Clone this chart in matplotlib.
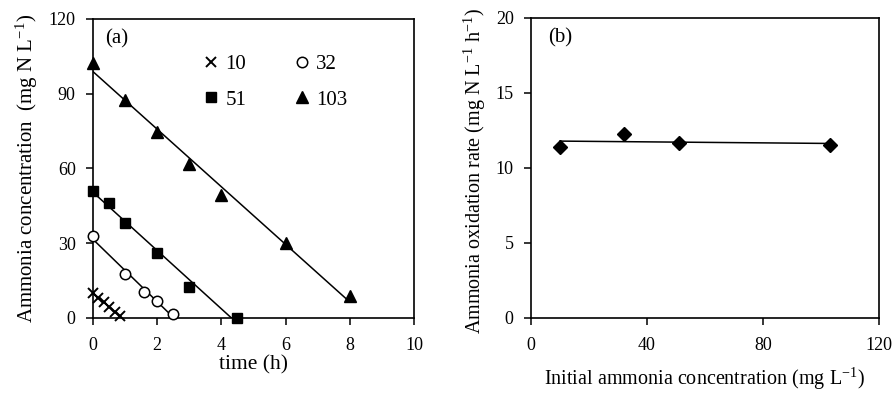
import numpy as np
import matplotlib
matplotlib.use("Agg")
import matplotlib.pyplot as plt

plt.rcParams['font.family'] = ['Liberation Serif', 'DejaVu Serif']
plt.rcParams['mathtext.fontset'] = 'stix'

# (a) ammonia concentration over time, by initial concentration
t_10 = [0, 0.17, 0.33, 0.5, 0.67, 0.83]
c_10 = [10, 8.2, 6.3, 4.5, 2.6, 0.9]
t_32 = [0, 1, 1.6, 2, 2.5]
c_32 = [32.9, 17.5, 10.3, 6.8, 1.5]
t_51 = [0, 0.5, 1, 2, 3, 4.5]
c_51 = [51, 46.1, 38.3, 26.1, 12.5, 0.1]
t_103 = [0, 1, 2, 3, 4, 6, 8]
c_103 = [102.5, 87.5, 74.6, 62.0, 49.4, 30.0, 8.8]

# (b) oxidation rate vs initial concentration
init_conc = [10, 32, 51, 103]
ox_rate = [11.42, 12.27, 11.69, 11.53]

fig = plt.figure(figsize=(8.96, 3.95), dpi=100)
ax1 = fig.add_axes([93 / 896, 1 - 318 / 395, 321 / 896, 299 / 395])
ax2 = fig.add_axes([531 / 896, 1 - 318 / 395, 348 / 896, 300 / 395])

TICK_FS = 13
LAB_FS = 15


def fit_line(ax, t, c):
    k, b = np.polyfit(t, c, 1)
    t_end = min(max(t), -b / k)
    xs = np.array([0, t_end])
    ax.plot(xs, k * xs + b, color='black', lw=1.1, zorder=2)


series = [
    (t_10, c_10, dict(marker='x', ms=7.5, mew=1.4, mfc='none'), '10'),
    (t_51, c_51, dict(marker='s', ms=7.5), '51'),
    (t_32, c_32, dict(marker='o', ms=7.5, mfc='white', mew=1.1), '32'),
    (t_103, c_103, dict(marker='^', ms=8.5), '103'),
]
for t, c, style, lab in series:
    fit_line(ax1, t, c)
    ax1.plot(t, c, ls='none', color='black', label=lab, clip_on=False, zorder=3, **style)

ax1.set_xlim(0, 10)
ax1.set_ylim(0, 120)
ax1.set_xticks([0, 2, 4, 6, 8, 10])
ax1.set_yticks([0, 30, 60, 90, 120])
ax1.set_xlabel('time (h)', fontsize=15.5)
ax1.set_ylabel('Ammonia concentration  (mg N L$^{\\mathregular{-1}}$)', fontsize=LAB_FS)
ax1.xaxis.set_label_coords(0.5, -0.123)
ax1.yaxis.set_label_coords(-0.165, 0.5)
ax1.text(0.037, 0.935, '(a)', transform=ax1.transAxes, fontsize=LAB_FS, va='center')
ax1.legend(ncol=2, frameon=False, fontsize=LAB_FS, loc='upper left',
           bbox_to_anchor=(0.312, 0.915), handlelength=0.7, handletextpad=0.35,
           columnspacing=2.3, labelspacing=0.75, borderpad=0)

ax2.plot(init_conc, ox_rate, ls='none', marker='D', ms=7, color='black', zorder=3)
k, b = np.polyfit(init_conc, ox_rate, 1)
xs = np.array([min(init_conc), max(init_conc)])
ax2.plot(xs, k * xs + b, color='black', lw=1.1, zorder=2)
ax2.set_xlim(0, 120)
ax2.set_ylim(0, 20)
ax2.set_xticks([0, 40, 80, 120])
ax2.set_yticks([0, 5, 10, 15, 20])
ax2.set_xlabel('Initial ammonia concentration (mg L$^{\\mathregular{-1}}$)', fontsize=14.5)
ax2.set_ylabel('Ammonia oxidation rate (mg N L$^{\\mathregular{-1}}$ h$^{\\mathregular{-1}}$)', fontsize=14.5)
ax2.xaxis.set_label_coords(0.5, -0.16)
ax2.yaxis.set_label_coords(-0.125, 0.49)
ax2.text(0.05, 0.935, '(b)', transform=ax2.transAxes, fontsize=LAB_FS, va='center')

for ax in (ax1, ax2):
    for s in ax.spines.values():
        s.set_linewidth(1.2)
    ax.tick_params(direction='out', length=5, width=1.1, labelsize=TICK_FS)
    ax.tick_params(axis='x', pad=8.5)
    ax.tick_params(axis='y', pad=7.5)

fig.savefig('out.png', dpi=100)
